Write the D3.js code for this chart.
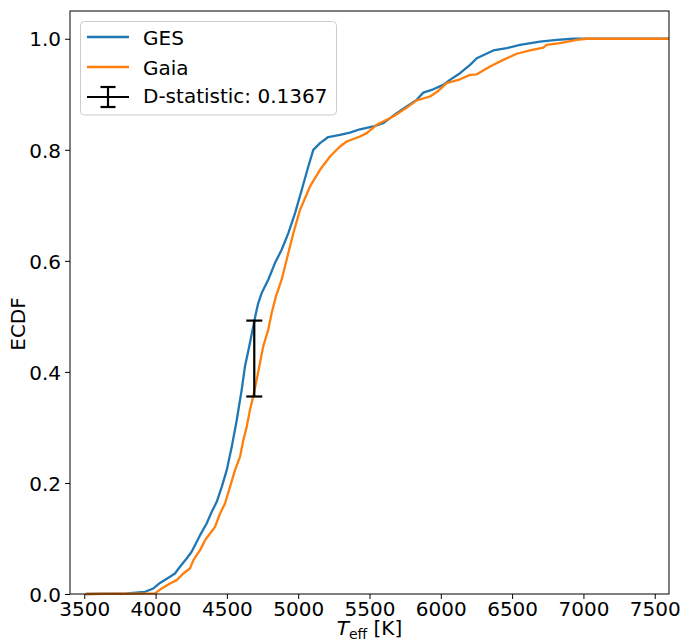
<!DOCTYPE html>
<html>
<head>
<meta charset="utf-8">
<script src="https://cdn.jsdelivr.net/npm/d3@7"></script>
<style>
  html, body { margin: 0; padding: 0; background: #fff; }
  text { font-family: "DejaVu Sans", sans-serif; }
</style>
</head>
<body>
<svg id="chart" width="682" height="641"></svg>
<script>
// ---- data ----
const gesT = [3510, 3800, 3926, 3984, 4031, 4101, 4136, 4171, 4218, 4253, 4312, 4358, 4394, 4429, 4464, 4499, 4534,
  4569, 4604, 4627, 4657, 4685, 4704, 4720, 4744, 4790, 4837, 4884, 4931, 4978, 5025, 5071, 5106, 5153, 5211,
  5293, 5363, 5433, 5527, 5597, 5691, 5761, 5831, 5877, 5947, 6017, 6064, 6135, 6205, 6252, 6368, 6462, 6555,
  6696, 6813, 6929, 7600];
const gesF = [0, 0.001, 0.004, 0.010, 0.020, 0.031, 0.037, 0.049, 0.064, 0.076, 0.106, 0.127, 0.148, 0.166, 0.193, 0.223, 0.265,
  0.313, 0.368, 0.410, 0.446, 0.482, 0.506, 0.524, 0.542, 0.566, 0.596, 0.620, 0.650, 0.686, 0.728, 0.770, 0.800, 0.812, 0.823,
  0.827, 0.831, 0.837, 0.842, 0.848, 0.866, 0.878, 0.890, 0.903, 0.909, 0.917, 0.926, 0.938, 0.953, 0.965, 0.979, 0.983, 0.989,
  0.995, 0.998, 1.0, 1.0];

const gaiaT = [3510, 3996, 4043, 4101, 4148, 4194, 4241, 4265, 4312, 4347, 4382, 4417, 4452, 4487, 4522, 4557, 4592,
  4615, 4639, 4662, 4685, 4709, 4732, 4755, 4790, 4814, 4844, 4884, 4919, 4966, 5013, 5083, 5153, 5223, 5293,
  5340, 5433, 5480, 5550, 5667, 5761, 5831, 5924, 5982, 6041, 6135, 6205, 6252, 6345, 6438, 6532, 6625, 6719,
  6742, 6836, 6953, 7023, 7600];
const gaiaF = [0, 0.001, 0.010, 0.019, 0.025, 0.037, 0.046, 0.061, 0.079, 0.097, 0.109, 0.121, 0.145, 0.163, 0.193, 0.223, 0.247,
  0.277, 0.301, 0.332, 0.356, 0.386, 0.416, 0.446, 0.476, 0.506, 0.536, 0.566, 0.602, 0.650, 0.692, 0.734, 0.764, 0.788, 0.806,
  0.815, 0.824, 0.830, 0.845, 0.860, 0.876, 0.889, 0.896, 0.906, 0.920, 0.927, 0.935, 0.936, 0.950, 0.962, 0.973, 0.979, 0.984,
  0.989, 0.992, 0.998, 1.0, 1.0];

const dStatT = 4692;
const dStatLow = 0.3557;
const dStatHigh = 0.4924;
const dStatLabel = "D-statistic: 0.1367";

const xTicks = [3500, 4000, 4500, 5000, 5500, 6000, 6500, 7000, 7500];
const yTicks = [0.0, 0.2, 0.4, 0.6, 0.8, 1.0];
const seriesNames = ["GES", "Gaia"];
const seriesColors = ["#1f77b4", "#ff7f0e"];

// ---- layout ----
const svg = d3.select("#chart");
const L = 70, R = 669, T = 11, B = 594;
const x = d3.scaleLinear().domain([3400, 7600]).range([L, R]);
const y = d3.scaleLinear().domain([0, 1.05]).range([B, T]);

svg.append("clipPath").attr("id", "clip")
  .append("rect").attr("x", L).attr("y", T - 2).attr("width", R - L).attr("height", B - T + 4);

const line = d3.line().x(d => x(d[0])).y(d => y(d[1]));
const gesData = gesT.map((t, i) => [t, gesF[i]]);
const gaiaData = gaiaT.map((t, i) => [t, gaiaF[i]]);

const plot = svg.append("g").attr("clip-path", "url(#clip)");
plot.append("path").datum(gesData).attr("d", line)
  .attr("fill", "none").attr("stroke", seriesColors[0]).attr("stroke-width", 2.3).attr("stroke-linejoin", "round");
plot.append("path").datum(gaiaData).attr("d", line)
  .attr("fill", "none").attr("stroke", seriesColors[1]).attr("stroke-width", 2.3).attr("stroke-linejoin", "round");

// error bar (D-statistic)
const eb = svg.append("g").attr("stroke", "#000").attr("stroke-width", 2.2);
eb.append("line").attr("x1", x(dStatT)).attr("x2", x(dStatT)).attr("y1", y(dStatLow)).attr("y2", y(dStatHigh));
[dStatLow, dStatHigh].forEach(v => {
  eb.append("line").attr("x1", x(dStatT) - 8).attr("x2", x(dStatT) + 8).attr("y1", y(v)).attr("y2", y(v));
});

// axes
const xAxis = d3.axisBottom(x).tickValues(xTicks).tickSize(5).tickPadding(3).tickFormat(d3.format("d"));
const yAxis = d3.axisLeft(y).tickValues(yTicks).tickSize(5).tickPadding(4).tickFormat(d3.format(".1f"));
const gx = svg.append("g").attr("transform", `translate(0,${B})`).call(xAxis);
const gy = svg.append("g").attr("transform", `translate(${L},0)`).call(yAxis);
[gx, gy].forEach(g => {
  g.select(".domain").remove();
  g.selectAll("text").attr("font-size", 20).attr("fill", "#000").attr("font-family", "DejaVu Sans");
  g.selectAll("line").attr("stroke", "#000").attr("stroke-width", 1);
});
gy.selectAll("text").attr("dy", "0.36em");

// frame
svg.append("rect").attr("x", L).attr("y", T).attr("width", R - L).attr("height", B - T)
  .attr("fill", "none").attr("stroke", "#000").attr("stroke-width", 1);

// axis labels
const xl = svg.append("text").attr("x", (L + R) / 2).attr("y", 635).attr("text-anchor", "middle")
  .attr("font-size", 20).attr("fill", "#000");
xl.append("tspan").attr("font-style", "italic").text("T");
xl.append("tspan").attr("font-size", 14).attr("dy", 4).text("eff");
xl.append("tspan").attr("dy", -4).text(" [K]");

svg.append("text").attr("transform", `translate(25,324) rotate(-90)`)
  .attr("text-anchor", "middle").attr("font-size", 20).attr("fill", "#000").text("ECDF");

// legend
const lg = svg.append("g");
lg.append("rect").attr("x", 80.5).attr("y", 21.5).attr("width", 256).attr("height", 93.5).attr("rx", 4)
  .attr("fill", "#fff").attr("fill-opacity", 0.8).attr("stroke", "#cccccc").attr("stroke-width", 1);
seriesNames.forEach((name, i) => {
  const cy = 37 + i * 30;
  lg.append("line").attr("x1", 87).attr("x2", 129).attr("y1", cy).attr("y2", cy)
    .attr("stroke", seriesColors[i]).attr("stroke-width", 2.3);
  lg.append("text").attr("x", 143).attr("y", cy + 8).attr("font-size", 20).attr("fill", "#000").text(name);
});
{
  const cy = 97;
  const g = lg.append("g").attr("stroke", "#000").attr("stroke-width", 2.2);
  g.append("line").attr("x1", 87).attr("x2", 129).attr("y1", cy).attr("y2", cy);
  g.append("line").attr("x1", 108).attr("x2", 108).attr("y1", cy - 10).attr("y2", cy + 10);
  g.append("line").attr("x1", 100.5).attr("x2", 115.5).attr("y1", cy - 10).attr("y2", cy - 10);
  g.append("line").attr("x1", 100.5).attr("x2", 115.5).attr("y1", cy + 10).attr("y2", cy + 10);
  lg.append("text").attr("x", 143).attr("y", cy + 6).attr("font-size", 20).attr("fill", "#000").text(dStatLabel);
}
</script>
</body>
</html>
